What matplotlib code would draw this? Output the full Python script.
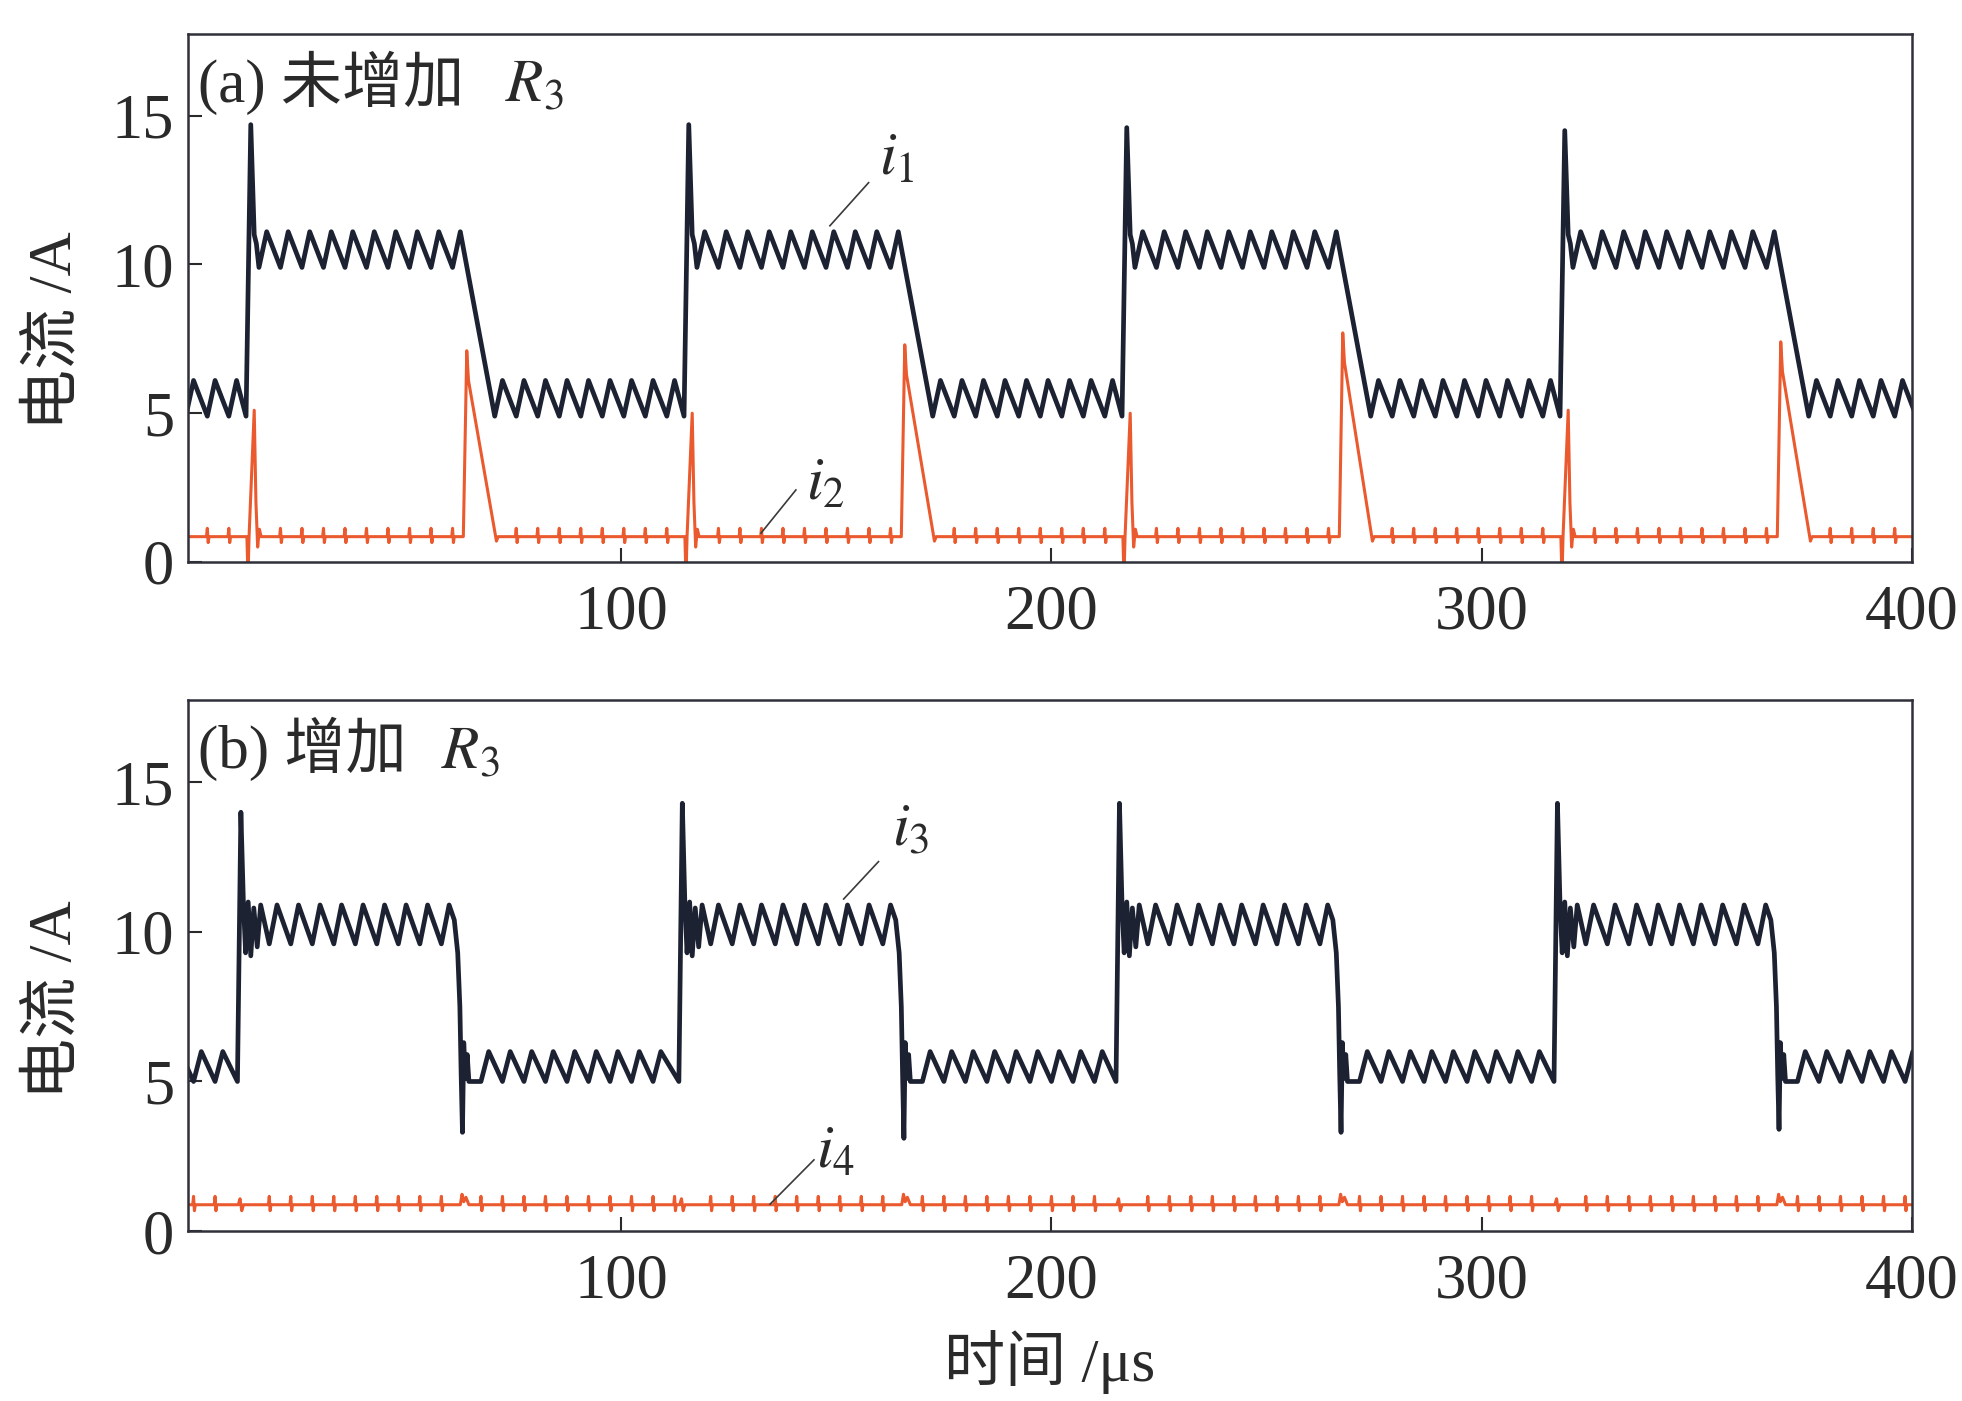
import numpy as np
import matplotlib.pyplot as plt

plt.rcParams['font.family'] = ['Liberation Serif', 'Noto Sans CJK SC']
plt.rcParams['mathtext.fontset'] = 'stix'

DARK = '#1d2233'
ORANGE = '#eb5a2e'
INK = '#2a2a2a'

x_ticks = [100, 200, 300, 400]
y_ticks = [0, 5, 10, 15]

ripple_T = 5.0      # 开关纹波周期 /us
ripple_up = 1.8     # 纹波上升段 /us
cycle_T = 101.8     # 方波周期 /us

# (a) 未增加 R3
a_rise = [-89.0, 12.8, 114.6, 216.4, 318.2]     # i1 上升沿
a_i1_peak = [14.6, 14.7, 14.7, 14.6, 14.5]
a_i1_ring = [11.0, 10.7]
a_i1_high = [9.9, 11.1]                         # 高电平纹波 谷/峰
a_i1_low = [4.9, 6.1]                           # 低电平纹波 谷/峰
a_i1_fall = [49.8, 57.8]                        # 下降沿起止(相对上升沿)
a_i2_base = 0.85
a_i2_spike = [5.0, 5.1, 5.0, 5.0, 5.1]          # 上升沿处尖峰
a_i2_hump = [7.2, 7.1, 7.3, 7.7, 7.4]           # 下降沿处尖峰

# (b) 增加 R3
b_rise = [-91.0, 10.8, 113.4, 215.0, 316.8]
b_i3_peak = [14.1, 14.0, 14.3, 14.3, 14.3]
b_i3_ring = [10.9, 9.3, 11.0, 9.2, 10.8, 9.5, 10.9]
b_i3_high = [9.6, 10.9]
b_i3_low = [5.0, 6.0]
b_i3_fall = 49.2
b_i3_dip = [3.3, 3.3, 3.1, 3.3, 3.4]            # 下降沿下冲
b_i4_base = 0.88


def teeth(t0, t1, lo, hi):
    ts, ys = [], []
    t = t0
    while t + ripple_up < t1:
        ts += [t, t + ripple_up]
        ys += [lo, hi]
        t += ripple_T
    return ts, ys


def blips(t0, t1, base):
    ts, ys = [], []
    t = t0
    while t < t1:
        ts += [t - 0.2, t, t + 0.2, t + 0.4]
        ys += [base, base + 0.28, base - 0.2, base]
        t += ripple_T
    return ts, ys


def next_rise(rises, k):
    return rises[k + 1] if k + 1 < len(rises) else rises[k] + cycle_T


def trace_i1():
    t, y = [], []
    for k, r in enumerate(a_rise):
        rn = next_rise(a_rise, k)
        t += [r, r + 1.1, r + 1.9, r + 2.4]
        y += [a_i1_low[0], a_i1_peak[k]] + a_i1_ring
        tt, yy = teeth(r + 3.0, r + a_i1_fall[0] + 0.01, *a_i1_high)
        t += tt; y += yy
        tt, yy = teeth(r + a_i1_fall[1], rn, *a_i1_low)
        t += tt; y += yy
    return np.array(t), np.array(y)


def trace_i2():
    b = a_i2_base
    t, y = [], []
    for k, r in enumerate(a_rise):
        rn = next_rise(a_rise, k)
        t += [r + 0.2, r + 0.45, r + 0.7, r + 1.9, r + 2.3, r + 2.7, r + 3.1, r + 3.5]
        y += [b, -0.5, b, a_i2_spike[k], 2.0, 0.5, 1.1, b]
        tt, yy = blips(r + 8.0, r + a_i1_fall[0], b)
        t += tt; y += yy
        h = a_i2_hump[k]
        t += [r + 50.5, r + 51.3, r + 51.7, r + 58.2, r + 58.6]
        y += [b, h, h - 1.0, b - 0.15, b]
        tt, yy = blips(r + 62.8, rn - 0.5, b)
        t += tt; y += yy
    return np.array(t), np.array(y)


def trace_i3():
    t, y = [], []
    f = b_i3_fall
    for k, r in enumerate(b_rise):
        rn = next_rise(b_rise, k)
        t += [r, r + 0.8, r + 1.4, r + 1.9, r + 2.5, r + 3.1, r + 3.8, r + 4.6, r + 5.4]
        y += [b_i3_low[0], b_i3_peak[k]] + b_i3_ring
        tt, yy = teeth(r + 7.4, r + f + 0.01, *b_i3_high)
        t += tt; y += yy
        t += [r + f + 1.2, r + f + 2.0, r + f + 2.5, r + f + 2.8, r + f + 3.1,
              r + f + 3.4, r + f + 3.8, r + f + 4.2, r + f + 4.6]
        y += [10.4, 9.3, 7.5, 5.2, b_i3_dip[k], 6.3, 5.1, 5.9, 5.0]
        tt, yy = teeth(r + f + 7.4, rn, *b_i3_low)
        t += tt; y += yy
    return np.array(t), np.array(y)


def trace_i4():
    b = b_i4_base
    f = b_i3_fall
    t, y = [], []
    for k, r in enumerate(b_rise):
        rn = next_rise(b_rise, k)
        t += [r + 0.2, r + 0.6, r + 1.0, r + 1.4]
        y += [b, b + 0.2, b - 0.2, b]
        tt, yy = blips(r + 7.4, r + f, b)
        t += tt; y += yy
        t += [r + f + 2.6, r + f + 3.0, r + f + 3.4, r + f + 3.9, r + f + 4.6]
        y += [b, b + 0.35, b + 0.1, b + 0.25, b]
        tt, yy = blips(r + f + 7.4, rn - 0.5, b)
        t += tt; y += yy
    return np.array(t), np.array(y)


fig = plt.figure(figsize=(19.62, 14.01), dpi=100)
ax_a = fig.add_axes([0.0958, 0.5989, 0.8787, 0.3769])
ax_b = fig.add_axes([0.0958, 0.1213, 0.8787, 0.3790])

ax_a.plot(*trace_i1(), color=DARK, lw=3.4, solid_joinstyle='round')
ax_a.plot(*trace_i2(), color=ORANGE, lw=2.2)
ax_b.plot(*trace_i3(), color=DARK, lw=3.4, solid_joinstyle='round')
ax_b.plot(*trace_i4(), color=ORANGE, lw=2.2)

for ax in (ax_a, ax_b):
    ax.set_xlim(-0.7, 400)
    ax.set_ylim(0, 17.75)
    ax.set_xticks(x_ticks)
    ax.set_yticks(y_ticks)
    ax.tick_params(direction='in', length=10, width=1.5, labelsize=45,
                   colors=INK, top=False, right=False)
    ax.tick_params(axis='x', pad=16)
    ax.tick_params(axis='y', pad=10)
    for s in ax.spines.values():
        s.set_color('#30303a')
        s.set_linewidth(1.8)

# 面板标题
ax_a.text(0.006, 0.872, '(a) 未增加', transform=ax_a.transAxes, fontsize=44,
          va='baseline', ha='left', color=INK)
ax_a.text(0.184, 0.872, '$R_3$', transform=ax_a.transAxes, fontsize=44,
          va='baseline', ha='left', color=INK)
ax_b.text(0.006, 0.872, '(b) 增加', transform=ax_b.transAxes, fontsize=44,
          va='baseline', ha='left', color=INK)
ax_b.text(0.147, 0.872, '$R_3$', transform=ax_b.transAxes, fontsize=44,
          va='baseline', ha='left', color=INK)

# 曲线标注
labels = [
    (ax_a, '$i_1$', [148.5, 157.5], [11.3, 12.75], (159.8, 13.0)),
    (ax_a, '$i_2$', [132.5, 140.6], [0.97, 2.42], (142.9, 2.1)),
    (ax_b, '$i_3$', [151.7, 159.8], [11.1, 12.35], (163.0, 12.9)),
    (ax_b, '$i_4$', [134.6, 144.8], [0.9, 2.38], (145.2, 2.1)),
]
for ax, txt, lx, ly, pos in labels:
    ax.plot(lx, ly, color='#3a3a3a', lw=1.2)
    ax.text(pos[0], pos[1], txt, fontsize=44, va='baseline', ha='left', color=INK)

fig.text(0.0285, 0.7637, '电流 /A', rotation=90, fontsize=44,
         ha='center', va='center', color=INK)
fig.text(0.0285, 0.2862, '电流 /A', rotation=90, fontsize=44,
         ha='center', va='center', color=INK)
fig.text(0.535, 1 - 1362 / 1401, '时间 /μs', fontsize=44,
         ha='center', va='center', color=INK)

fig.savefig('out.png', dpi=100, facecolor='white')
